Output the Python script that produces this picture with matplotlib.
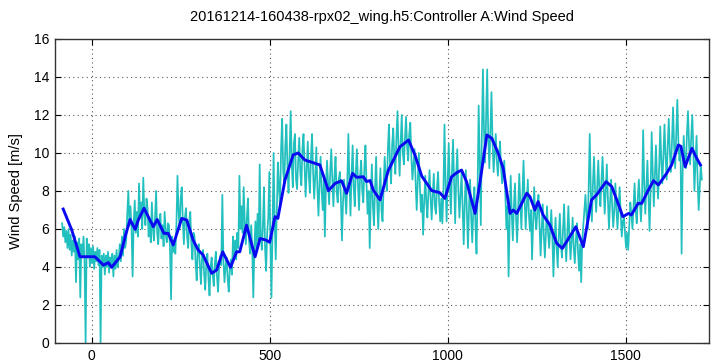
import numpy as np
import matplotlib
matplotlib.use("Agg")
import matplotlib.pyplot as plt

plt.rcParams['font.family'] = ['Liberation Sans', 'DejaVu Sans']

TITLE = "20161214-160438-rpx02_wing.h5:Controller A:Wind Speed"
YLABEL = "Wind Speed [m/s]"

# raw wind speed samples (every 3 time units starting at -83)
raw_t0 = -83
raw_dt = 3
raw_speed = [
    6.3, 5.6, 6.1, 5.3, 5.9, 5.0, 6.0, 4.9, 5.7, 4.6, 5.4, 4.8, 5.6, 3.2, 5.3, 4.4, 5.5, 2.4, 5.2, 4.5,
    5.6, 4.3, 0.0, 5.5, 4.5, 5.2, 4.0, 5.0, 4.2, 5.1, 3.9, 4.8, 4.3, 5.0, 4.1, 4.9, 0.0, 4.6, 4.0, 4.7,
    3.6, 4.6, 4.0, 4.8, 3.7, 4.5, 4.1, 4.7, 3.5, 4.6, 3.9, 4.9, 4.0, 4.4, 5.2, 4.3, 5.6, 4.6, 6.0, 5.0,
    5.4, 6.8, 8.0, 6.2, 7.2, 6.0, 3.5, 6.3, 7.5, 5.8, 6.9, 5.6, 8.4, 6.6, 7.4, 6.0, 8.7, 6.8, 6.2, 7.6,
    7.1, 5.6, 6.5, 5.3, 7.4, 6.0, 5.4, 6.6, 8.0, 5.8, 5.2, 6.4, 6.8, 5.5, 6.2, 5.1, 6.9, 5.7, 5.3, 6.3,
    6.2, 5.0, 2.3, 5.6, 4.8, 5.4, 4.7, 6.2, 8.8, 7.0, 6.0, 7.6, 8.2, 6.4, 5.2, 6.6, 7.1, 5.6, 5.0, 6.4,
    6.9, 5.2, 4.4, 5.8, 5.6, 4.2, 3.3, 5.0, 5.2, 4.0, 3.1, 4.6, 4.9, 3.6, 2.8, 4.2, 4.7, 3.4, 2.5, 4.0,
    4.5, 3.6, 3.0, 4.2, 4.8, 3.5, 2.7, 4.0, 4.6, 4.1, 7.8, 4.4, 3.2, 4.0, 4.5, 3.4, 2.7, 3.9, 4.4, 3.6,
    5.6, 4.6, 5.4, 4.4, 5.8, 5.0, 8.8, 6.0, 7.2, 5.8, 8.2, 6.4, 5.2, 6.6, 7.6, 5.4, 4.7, 6.2, 5.0, 2.4,
    5.0, 6.4, 4.8, 6.8, 5.4, 9.4, 5.6, 4.9, 6.2, 8.2, 5.0, 3.8, 5.8, 6.6, 9.0, 5.2, 2.4, 6.0, 10.0, 6.5,
    4.4, 7.0, 9.5, 8.2, 7.2, 10.2, 11.8, 9.0, 8.4, 10.4, 11.5, 9.2, 7.9, 10.0, 12.2, 9.4, 8.2, 10.5, 11.0, 8.6,
    8.1, 9.6, 10.8, 9.0, 8.3, 10.2, 11.0, 9.4, 7.7, 9.2, 10.6, 8.8, 7.9, 9.8, 11.0, 9.0, 7.6, 8.8, 10.3, 8.2,
    6.7, 8.4, 9.8, 8.0, 7.0, 8.6, 5.6, 8.2, 9.6, 8.4, 7.3, 9.0, 10.2, 8.6, 7.2, 8.8, 9.8, 8.0, 7.4, 8.6,
    9.0, 7.6, 5.4, 7.4, 8.6, 7.8, 6.8, 8.4, 11.0, 8.6, 6.7, 8.8, 10.4, 8.2, 7.2, 9.0, 10.2, 8.4, 7.0, 8.8,
    9.6, 8.0, 7.4, 9.2, 10.4, 8.4, 6.8, 8.0, 5.0, 7.6, 9.4, 7.2, 6.2, 8.2, 9.8, 7.4, 6.0, 7.8, 9.2, 7.0,
    6.4, 8.2, 9.8, 8.6, 8.0, 10.2, 11.5, 9.4, 8.4, 10.4, 11.3, 9.8, 8.9, 10.8, 12.2, 10.2, 8.8, 10.6, 12.0, 10.0,
    9.4, 10.8, 11.9, 10.4, 9.6, 11.0, 11.6, 9.8, 8.6, 9.4, 10.2, 8.4, 7.0, 8.6, 10.0, 8.2, 6.9, 7.8, 5.7, 7.4,
    8.8, 7.4, 6.6, 8.0, 9.1, 7.6, 6.5, 7.8, 8.9, 7.2, 6.8, 8.2, 9.0, 7.4, 6.4, 7.6, 6.3, 8.0, 11.5, 8.4,
    6.4, 8.6, 10.5, 8.2, 6.8, 9.0, 10.7, 8.4, 6.3, 8.8, 10.2, 8.0, 6.6, 7.8, 9.0, 7.0, 5.2, 7.4, 9.1, 6.8,
    5.0, 7.2, 8.6, 6.6, 5.3, 7.0, 8.2, 6.2, 4.7, 8.0, 12.5, 9.6, 6.2, 11.0, 14.4, 11.2, 9.5, 12.0, 14.4, 10.8,
    9.2, 11.2, 13.2, 10.6, 9.0, 10.0, 11.0, 9.6, 8.8, 9.8, 10.6, 9.2, 8.4, 9.0, 9.6, 7.8, 6.0, 7.2, 3.5, 6.4,
    8.8, 6.8, 5.4, 7.2, 8.4, 6.6, 5.3, 7.0, 8.9, 7.4, 6.0, 7.8, 9.6, 7.6, 6.0, 7.2, 8.6, 6.8, 5.9, 7.0,
    4.4, 6.4, 8.2, 6.6, 6.0, 7.0, 7.8, 6.2, 4.6, 6.0, 7.3, 5.6, 4.5, 5.8, 7.2, 5.8, 5.0, 6.0, 7.0, 5.6,
    3.5, 5.4, 6.6, 5.0, 4.0, 5.6, 6.8, 5.2, 4.5, 6.0, 7.3, 5.4, 4.3, 5.8, 7.2, 5.6, 4.4, 5.4, 6.6, 5.0,
    4.2, 5.4, 6.3, 4.8, 3.8, 5.2, 3.2, 5.4, 6.2, 7.0, 7.8, 6.6, 6.0, 8.2, 11.0, 8.0, 6.4, 8.4, 9.8, 8.0,
    6.9, 8.2, 9.6, 8.0, 7.2, 8.6, 9.8, 8.2, 6.8, 8.0, 9.4, 7.6, 6.0, 7.4, 8.6, 7.2, 6.1, 7.0, 8.4, 7.0,
    6.0, 7.2, 8.2, 6.8, 5.6, 6.4, 6.6, 5.8, 5.0, 5.8, 4.9, 6.2, 7.4, 6.8, 6.0, 7.2, 8.4, 7.0, 6.3, 7.6,
    8.6, 7.4, 6.4, 7.8, 11.2, 8.4, 6.8, 8.2, 9.6, 7.8, 5.9, 8.0, 11.1, 9.0, 7.2, 8.8, 10.4, 8.6, 7.6, 9.2,
    11.4, 9.6, 8.4, 10.0, 11.5, 9.8, 8.6, 10.4, 11.8, 10.0, 9.0, 10.6, 12.4, 10.4, 9.2, 11.0, 12.8, 10.6, 9.6, 10.2,
    4.7, 9.0, 10.9, 9.6, 9.2, 11.0, 12.2, 10.4, 9.4, 10.8, 12.0, 10.2, 8.0, 9.4, 10.9, 8.6, 7.0, 8.2, 9.4, 8.6,
]

# smoothed wind speed
smooth_t = [-80, -56, -33, 9, 33, 47, 56, 80, 94, 108, 122, 131, 147, 159, 173, 184,
            203, 215, 229, 253, 267, 285, 299, 313, 337, 351, 368, 390, 407, 416,
            435, 459, 473, 489, 500, 515, 523, 543, 566, 580, 599, 622, 641, 665,
            684, 702, 716, 733, 744, 763, 772, 782, 791, 810, 833, 866, 890, 908,
            927, 955, 978, 992, 1011, 1025, 1039, 1053, 1077, 1091, 1110, 1124,
            1142, 1156, 1175, 1184, 1194, 1222, 1231, 1245, 1254, 1268, 1287, 1306,
            1322, 1343, 1360, 1381, 1404, 1418, 1445, 1461, 1475, 1492, 1508, 1516,
            1535, 1545, 1559, 1578, 1592, 1615, 1629, 1648, 1655, 1667, 1686, 1697, 1710]
smooth_speed = [7.05, 5.95, 4.54, 4.54, 4.1, 4.23, 3.98, 4.54, 5.6, 6.5, 5.98, 6.47, 7.09,
                6.65, 6.12, 6.5, 5.77, 5.77, 5.16, 6.56, 6.47, 5.42, 4.9, 4.63, 3.67,
                3.84, 4.8, 3.98, 4.8, 4.8, 6.2, 4.54, 5.5, 5.42, 5.3, 6.65, 6.56, 8.58,
                9.9, 10.0, 9.63, 9.49, 9.37, 8.02, 8.4, 8.54, 7.88, 8.93, 8.72, 8.75,
                8.5, 8.55, 8.05, 7.53, 9.07, 10.33, 10.68, 9.9, 8.79, 8.02, 7.91, 7.61,
                8.75, 8.96, 9.1, 8.49, 6.82, 8.49, 10.95, 10.77, 9.98, 9.19, 6.82, 7.0,
                6.82, 7.88, 7.7, 7.0, 7.44, 6.74, 6.21, 5.25, 4.98, 5.6, 6.12, 5.07,
                7.53, 7.79, 8.49, 8.23, 7.53, 6.65, 6.82, 6.74, 7.35, 7.35, 7.88, 8.54,
                8.32, 8.93, 9.37, 10.42, 10.35, 9.28, 10.25, 9.81, 9.37]

raw_t = raw_t0 + raw_dt * np.arange(len(raw_speed))

fig = plt.figure(figsize=(7.13, 3.62), dpi=100)
ax = fig.add_axes([55 / 713, 19 / 362, 654 / 713, 304 / 362])

ax.plot(raw_t, raw_speed, color='#22bfbf', linewidth=1.25)
ax.plot(smooth_t, smooth_speed, color='#0a0af0', linewidth=2.1)

ax.set_xlim(-103, 1734)
ax.set_ylim(0, 16)
ax.set_xticks([0, 500, 1000, 1500])
ax.set_yticks(range(0, 17, 2))
ax.grid(True, color='#555555', linestyle=(0, (1, 3)), linewidth=0.8)
ax.tick_params(direction='in', top=True, right=True, labelsize=10, length=4, pad=4)
for s in ax.spines.values():
    s.set_linewidth(1.0)
    s.set_color('#333333')

ax.set_title(TITLE, fontsize=10.5, pad=13)
ax.set_ylabel(YLABEL, fontsize=10.5, labelpad=8)

fig.savefig("out.png", dpi=100)
